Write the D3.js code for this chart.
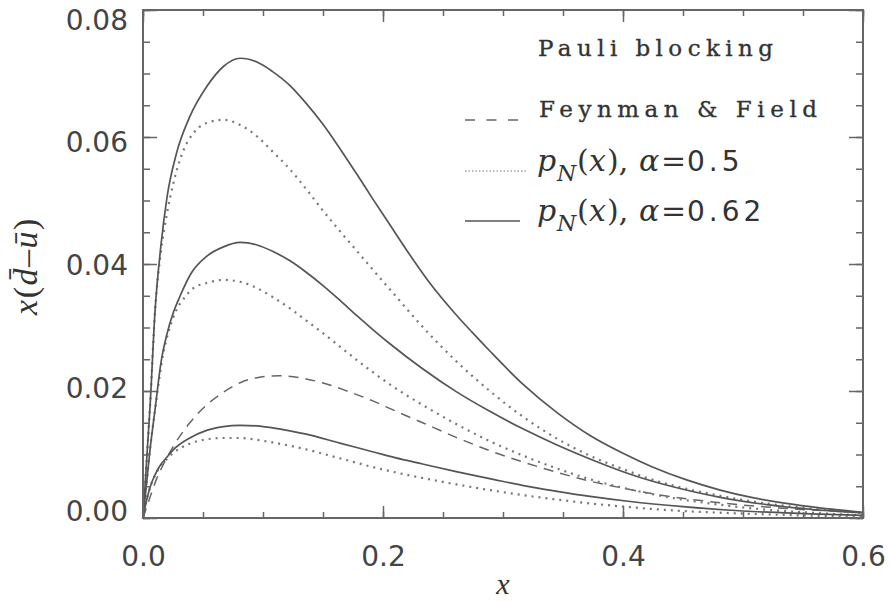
<!DOCTYPE html>
<html>
<head>
<meta charset="utf-8">
<script src="https://cdn.jsdelivr.net/npm/d3@7"></script>
<style>
  html, body { margin: 0; padding: 0; background: #fff; }
  svg { display: block; }
</style>
</head>
<body>
<svg id="chart" width="889" height="602"></svg>
<script>
// x(dbar - ubar) curves: Pauli blocking (Feynman & Field) and the
// pion-cloud p_N(x) models for two values of alpha.
const alpha062High = [[0,0],[0.003,0.009],[0.006,0.018],[0.01,0.0325],[0.015,0.043],[0.02,0.0505],[0.028,0.0575],[0.039,0.0632],[0.053,0.0679],[0.067,0.0711],[0.081,0.0724],[0.095,0.0718],[0.108,0.0703],[0.1225,0.0681],[0.136,0.0653],[0.15,0.0620],[0.164,0.0582],[0.178,0.0542],[0.192,0.0501],[0.206,0.0461],[0.22,0.0421],[0.239,0.0370],[0.26,0.0322],[0.274,0.0293],[0.289,0.0263],[0.317,0.0210],[0.345,0.0166],[0.3725,0.0130],[0.4,0.0102],[0.425,0.0080],[0.453,0.0060],[0.481,0.0044],[0.508,0.0032],[0.536,0.0023],[0.564,0.0016],[0.6,0.0009]];
const alpha05High = [[0,0],[0.003,0.009],[0.006,0.018],[0.01,0.0325],[0.015,0.042],[0.02,0.048],[0.025,0.0525],[0.0335,0.0578],[0.042,0.0606],[0.053,0.0622],[0.067,0.0627],[0.081,0.0619],[0.095,0.0601],[0.108,0.0577],[0.1225,0.0549],[0.136,0.0518],[0.15,0.0484],[0.164,0.0452],[0.178,0.0421],[0.192,0.0390],[0.2085,0.0354],[0.233,0.0301],[0.261,0.0247],[0.289,0.0200],[0.317,0.0159],[0.345,0.0125],[0.3725,0.0098],[0.4,0.0077],[0.425,0.0060],[0.453,0.0046],[0.481,0.0035],[0.508,0.0026],[0.55,0.0016],[0.6,0.0008]];
const alpha062Mid = [[0,0],[0.003,0.0055],[0.006,0.011],[0.01,0.017],[0.015,0.0245],[0.02,0.029],[0.025,0.0322],[0.031,0.035],[0.04,0.0385],[0.053,0.0412],[0.067,0.0427],[0.081,0.0434],[0.095,0.0430],[0.108,0.0420],[0.1225,0.0405],[0.136,0.0387],[0.15,0.0366],[0.164,0.0343],[0.178,0.0319],[0.192,0.0296],[0.206,0.0274],[0.233,0.0235],[0.261,0.0199],[0.289,0.0168],[0.317,0.0140],[0.345,0.0115],[0.3725,0.0093],[0.406,0.0069],[0.44,0.0050],[0.48,0.0033],[0.52,0.0021],[0.56,0.0013],[0.6,0.0008]];
const alpha05Mid = [[0,0],[0.003,0.0055],[0.006,0.011],[0.01,0.017],[0.017,0.026],[0.022,0.0298],[0.028,0.0328],[0.035,0.0348],[0.042,0.0362],[0.053,0.0370],[0.067,0.0375],[0.081,0.0372],[0.095,0.0362],[0.108,0.0348],[0.1225,0.0330],[0.136,0.0311],[0.15,0.0291],[0.164,0.0270],[0.178,0.0249],[0.192,0.0229],[0.206,0.0210],[0.233,0.0178],[0.261,0.0148],[0.289,0.0121],[0.317,0.0098],[0.345,0.0078],[0.3725,0.0061],[0.406,0.0045],[0.44,0.0032],[0.48,0.0021],[0.52,0.0013],[0.56,0.0008],[0.6,0.0004]];
const feynmanField = [[0,0],[0.005,0.0028],[0.011,0.006],[0.018,0.0088],[0.025,0.0112],[0.039,0.015],[0.053,0.0178],[0.067,0.0198],[0.081,0.0213],[0.095,0.0221],[0.114,0.0224],[0.136,0.0219],[0.153,0.0211],[0.17,0.0200],[0.192,0.0184],[0.211,0.0168],[0.233,0.0150],[0.261,0.0127],[0.289,0.0106],[0.317,0.0088],[0.345,0.0072],[0.3725,0.0058],[0.4,0.0047],[0.425,0.0038],[0.481,0.0024],[0.536,0.0015],[0.6,0.0009]];
const alpha062Low = [[0,0],[0.003,0.0028],[0.006,0.0049],[0.01,0.0068],[0.014,0.0082],[0.02,0.0096],[0.025,0.0107],[0.039,0.0126],[0.053,0.0138],[0.067,0.0144],[0.081,0.0146],[0.095,0.0145],[0.108,0.0142],[0.136,0.0132],[0.164,0.0118],[0.192,0.0104],[0.21,0.0095],[0.233,0.0085],[0.261,0.0073],[0.289,0.0062],[0.317,0.0051],[0.345,0.0042],[0.3725,0.0034],[0.406,0.0026],[0.45,0.0018],[0.5,0.0011],[0.55,0.0007],[0.6,0.0004]];
const alpha05Low = [[0,0],[0.003,0.0028],[0.006,0.0049],[0.01,0.0067],[0.014,0.008],[0.02,0.0093],[0.025,0.0102],[0.039,0.0117],[0.053,0.0124],[0.067,0.0126],[0.081,0.0126],[0.095,0.0123],[0.108,0.0119],[0.136,0.0108],[0.164,0.0094],[0.192,0.0080],[0.21,0.0072],[0.233,0.0063],[0.261,0.0053],[0.289,0.0044],[0.317,0.0036],[0.345,0.0029],[0.3725,0.0023],[0.406,0.0017],[0.45,0.0011],[0.5,0.0007],[0.55,0.0004],[0.6,0.0002]];

const xTicks = [0, 0.2, 0.4, 0.6];
const xTickLabels = ["0.0", "0.2", "0.4", "0.6"];
const yTicks = [0, 0.02, 0.04, 0.06, 0.08];
const yTickLabels = ["0.00", "0.02", "0.04", "0.06", "0.08"];
const xMinorStep = 0.05;
const yMinorStep = 0.005;

const svg = d3.select("#chart");
const frameLeft = 143, frameRight = 863, frameTop = 10, frameBottom = 518;

const x = d3.scaleLinear().domain([0, 0.6]).range([frameLeft, frameRight]);
const y = d3.scaleLinear().domain([0, 0.08]).range([frameBottom, frameTop]);
// the value labels of the y axis are set a little inside the end ticks
const yLabelPos = d3.scaleLinear().domain([0, 0.08]).range([510, 19]);

const line = d3.line()
  .x(d => x(d[0]))
  .y(d => y(d[1]))
  .curve(d3.curveMonotoneX);

const styles = {
  solid:  { stroke: "#555", width: 1.7, dash: null },
  dotted: { stroke: "#777", width: 2.2, dash: "2,5" },
  dashed: { stroke: "#666", width: 1.5, dash: "10,7" }
};

const series = [
  { data: feynmanField, style: "dashed" },
  { data: alpha05High, style: "dotted" },
  { data: alpha05Mid, style: "dotted" },
  { data: alpha05Low, style: "dotted" },
  { data: alpha062High, style: "solid" },
  { data: alpha062Mid, style: "solid" },
  { data: alpha062Low, style: "solid" }
];

svg.append("g").selectAll("path.curve")
  .data(series)
  .join("path")
  .attr("class", "curve")
  .attr("d", d => line(d.data))
  .attr("fill", "none")
  .attr("stroke", d => styles[d.style].stroke)
  .attr("stroke-width", d => styles[d.style].width)
  .attr("stroke-dasharray", d => styles[d.style].dash);

// frame with inward ticks on all four sides
const axisColor = "#666";
const xMinor = d3.range(0, 0.6 + 1e-9, xMinorStep);
const yMinor = d3.range(0, 0.08 + 1e-9, yMinorStep);

const bottomAxis = d3.axisBottom(x).tickValues(xTicks).tickFormat((d, i) => xTickLabels[i]).tickSizeInner(-12).tickSizeOuter(0).tickPadding(28);
const topAxis = d3.axisTop(x).tickValues(xTicks).tickFormat("").tickSizeInner(-12).tickSizeOuter(0);
const leftAxis = d3.axisLeft(y).tickValues(yTicks).tickFormat((d, i) => yTickLabels[i]).tickSizeInner(-14).tickSizeOuter(0).tickPadding(15);
const rightAxis = d3.axisRight(y).tickValues(yTicks).tickFormat("").tickSizeInner(-14).tickSizeOuter(0);

const bottomMinor = d3.axisBottom(x).tickValues(xMinor).tickFormat("").tickSizeInner(-6).tickSizeOuter(0);
const topMinor = d3.axisTop(x).tickValues(xMinor).tickFormat("").tickSizeInner(-6).tickSizeOuter(0);
const leftMinor = d3.axisLeft(y).tickValues(yMinor).tickFormat("").tickSizeInner(-7).tickSizeOuter(0);
const rightMinor = d3.axisRight(y).tickValues(yMinor).tickFormat("").tickSizeInner(-7).tickSizeOuter(0);

function place(axis, transform) {
  const g = svg.append("g").attr("transform", transform).call(axis);
  g.select(".domain").remove();
  g.selectAll(".tick line").attr("stroke", axisColor).attr("stroke-width", 1.5);
  return g;
}
place(bottomMinor, `translate(0,${frameBottom})`);
place(topMinor, `translate(0,${frameTop})`);
place(leftMinor, `translate(${frameLeft},0)`);
place(rightMinor, `translate(${frameRight},0)`);
const gx = place(bottomAxis, `translate(0,${frameBottom})`);
place(topAxis, `translate(0,${frameTop})`);
const gy = place(leftAxis, `translate(${frameLeft},0)`);
place(rightAxis, `translate(${frameRight},0)`);

svg.append("rect")
  .attr("x", frameLeft).attr("y", frameTop)
  .attr("width", frameRight - frameLeft).attr("height", frameBottom - frameTop)
  .attr("fill", "none").attr("stroke", axisColor).attr("stroke-width", 2);

gx.selectAll(".tick text")
  .attr("font-family", "DejaVu Sans, sans-serif")
  .attr("font-size", 28).attr("fill", "#444");
gy.selectAll(".tick text")
  .attr("font-family", "DejaVu Sans, sans-serif")
  .attr("font-size", 28).attr("fill", "#444")
  .attr("dy", "0.36em")
  .attr("transform", d => `translate(0,${yLabelPos(d) - y(d)})`);

// axis titles
svg.append("text")
  .attr("x", (frameLeft + frameRight) / 2).attr("y", 594)
  .attr("text-anchor", "middle")
  .attr("font-family", "Liberation Serif, serif").attr("font-style", "italic")
  .attr("font-size", 30).attr("fill", "#333")
  .text("x");

const yTitle = svg.append("text")
  .attr("transform", "translate(37,266) rotate(-90)")
  .attr("text-anchor", "middle")
  .attr("font-family", "Liberation Serif, serif")
  .attr("font-size", 34).attr("letter-spacing", 1.5).attr("fill", "#333");
yTitle.append("tspan").attr("font-style", "italic").text("x");
yTitle.append("tspan").text("(");
yTitle.append("tspan").attr("font-style", "italic").text("d\u0304");
yTitle.append("tspan").text("\u2013");
yTitle.append("tspan").attr("font-style", "italic").text("u\u0304");
yTitle.append("tspan").text(")");

// legend
const legendFont = "DejaVu Serif, serif";
svg.append("text")
  .attr("x", 538).attr("y", 56)
  .attr("font-family", legendFont).attr("font-size", 23).attr("fill", "#333")
  .attr("stroke", "#333").attr("stroke-width", 0.35)
  .attr("textLength", 235).attr("lengthAdjust", "spacing")
  .text("Pauli blocking");
svg.append("text")
  .attr("x", 539).attr("y", 117)
  .attr("font-family", legendFont).attr("font-size", 23).attr("fill", "#333")
  .attr("stroke", "#333").attr("stroke-width", 0.35)
  .attr("textLength", 278).attr("lengthAdjust", "spacing")
  .text("Feynman & Field");

const legendRows = [
  { style: "dashed", y: 120, dash: "10,11.5", width: 1.5, text: null },
  { style: "dotted", y: 171, dash: "1.5,2", width: 1.2, text: "0.5" },
  { style: "solid", y: 221, dash: null, width: 1.5, text: "0.62" }
];
legendRows.forEach(r => {
  svg.append("line")
    .attr("x1", 465).attr("x2", r.style === "dotted" ? 528 : 520)
    .attr("y1", r.y).attr("y2", r.y)
    .attr("stroke", styles[r.style].stroke)
    .attr("stroke-width", r.width)
    .attr("stroke-dasharray", r.dash);
  if (r.text) {
    const t = svg.append("text")
      .attr("y", r.y)
      .attr("font-family", legendFont).attr("font-size", 30).attr("fill", "#333");
    t.append("tspan").attr("x", 537).attr("font-style", "italic").text("p");
    t.append("tspan").attr("x", 557).attr("font-style", "italic").attr("font-size", 22).attr("dy", 10).text("N");
    t.append("tspan").attr("x", 577).attr("dy", -10).text("(");
    t.append("tspan").attr("x", 589).attr("font-style", "italic").text("x");
    t.append("tspan").attr("x", 607).text("),");
    t.append("tspan").attr("x", 639).attr("font-style", "italic").text("\u03b1");
    t.append("tspan").attr("x", 661).text("=");
    t.append("tspan").attr("x", 687).attr("font-family", "DejaVu Sans, sans-serif").attr("font-size", 28)
      .attr("letter-spacing", 4).text(r.text);
  }
});
</script>
</body>
</html>
